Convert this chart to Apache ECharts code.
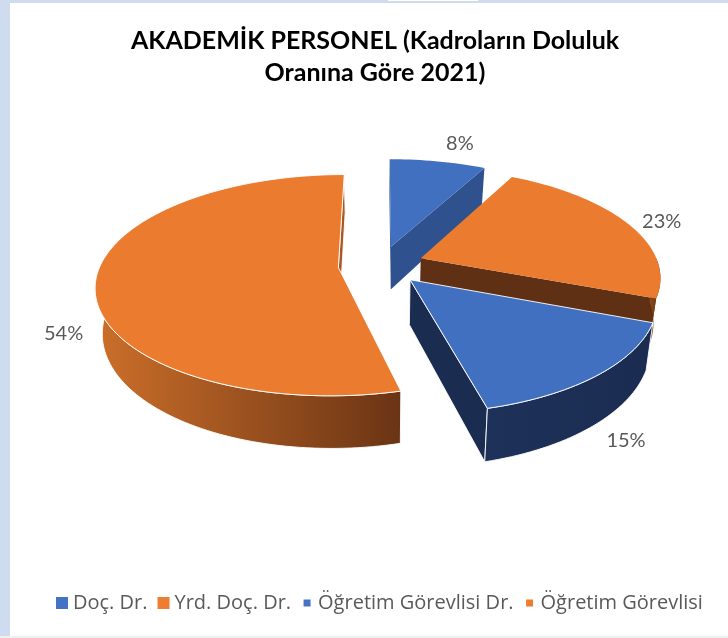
<!DOCTYPE html>
<html><head><meta charset="utf-8">
<style>html,body{margin:0;padding:0;background:#fff}#c{width:728px;height:638px}</style>
<script src="https://cdn.jsdelivr.net/npm/echarts@6/dist/echarts.min.js"></script>
</head><body><div id="c"></div>
<script>
const categories = ['Doç. Dr.', 'Yrd. Doç. Dr.', 'Öğretim Görevlisi Dr.', 'Öğretim Görevlisi'];
const values = [7.7, 23.2, 15.1, 54];
const titleText = 'AKADEMİK PERSONEL (Kadroların Doluluk\nOranına Göre 2021)';

const topColors = ['#4270c0', '#ea7b2f', '#4270c0', '#ea7b2f'];
const legendColors = ['#4472c4', '#ed7d31', '#4472c4', '#ed7d31'];
const cutColors = ['#2f528f', '#5f3014', '#1a2c50', '#a85a22'];
const arcColors = [
  ['#2f528f', '#2f528f'], ['#8a4a1c', '#6a3414'],
  ['#1e3159', '#1a2c50'], ['#cc6f2a', '#6a3414']
];
const outlined = [false, false, true, true];
const labelNudge = [[22, -18], [34, -2], [28, 66], [-32, 52]];

const view = { cx: 381, cy: 265, a: 238, b: 107, k: 0.16, depth: 44, shrink: 0.975, explode: 0.18 };
const total = values.reduce((s, v) => s + v, 0);
const RAD = Math.PI / 180;

function project(X, V, low) {
  const w = 1 - view.k * V;
  return [
    view.cx + view.a * X / w * (low ? view.shrink : 1),
    view.cy + view.b * V / w + (low ? view.depth / w : 0)
  ];
}
function arcPoints(o, from, to, low) {
  const n = Math.max(2, Math.ceil(Math.abs(to - from) / 1.5));
  const pts = [];
  for (let i = 0; i <= n; i++) {
    const t = (from + (to - from) * i / n) * RAD;
    pts.push(project(o[0] + Math.sin(t), o[1] - Math.cos(t), low));
  }
  return pts;
}

function makeSeries(idx) {
  const startPct = values.slice(0, idx).reduce((s, v) => s + v, 0);
  const start = startPct / total * 360;
  const end = (startPct + values[idx]) / total * 360;
  const mid = (start + end) / 2;
  const o = [view.explode * Math.sin(mid * RAD), -view.explode * Math.cos(mid * RAD)];
  const line = outlined[idx] ? { stroke: 'rgba(255,255,255,0.9)', lineWidth: 1 } : { stroke: null, lineWidth: 0 };
  return {
    type: 'custom',
    name: categories[idx],
    coordinateSystem: 'none',
    itemStyle: { color: legendColors[idx] },
    data: [values[idx]],
    silent: true,
    renderItem: function () {
      const kids = [];
      const apexTop = project(o[0], o[1], false);
      const apexLow = project(o[0], o[1], true);
      const addCut = function (deg) {
        const r = arcPoints(o, deg, deg, false)[0];
        const rl = arcPoints(o, deg, deg, true)[0];
        kids.push({ type: 'polygon', shape: { points: [apexTop, r, rl, apexLow] },
          style: Object.assign({ fill: cutColors[idx] }, line) });
      };
      const s = arcPoints(o, start, start, false)[0];
      const e = arcPoints(o, end, end, false)[0];
      if (s[0] - apexTop[0] < -0.5) addCut(start);
      if (e[0] - apexTop[0] > 0.5) addCut(end);
      const a0 = Math.max(start, 90), a1 = Math.min(end, 270);
      if (a1 > a0) {
        const upper = arcPoints(o, a0, a1, false);
        const lower = arcPoints(o, a0, a1, true).reverse();
        kids.push({ type: 'polygon', shape: { points: upper.concat(lower) },
          style: Object.assign({
            fill: { type: 'linear', x: 0, y: 0, x2: 1, y2: 0, colorStops: [
              { offset: 0, color: arcColors[idx][0] }, { offset: 1, color: arcColors[idx][1] }] }
          }, line) });
      }
      kids.push({ type: 'polygon', shape: { points: [apexTop].concat(arcPoints(o, start, end, false)) },
        style: Object.assign({ fill: topColors[idx] }, line) });
      const anchor = arcPoints(o, mid, mid, false)[0];
      kids.push({ type: 'text', z2: 10, style: {
        text: Math.round(values[idx] / total * 100) + '%',
        x: anchor[0] + labelNudge[idx][0], y: anchor[1] + labelNudge[idx][1],
        align: 'center', verticalAlign: 'middle',
        fill: '#595959', font: '20px Lato'
      } });
      return { type: 'group', children: kids };
    }
  };
}

const smallIcon = 'path://M0 0L0 0M12 12L12 12M2.5 2.5H9.5V9.5H2.5Z';
const chart = echarts.init(document.getElementById('c'), null, { renderer: 'canvas' });
chart.setOption({
  animation: false,
  backgroundColor: '#ffffff',
  graphic: [
    { type: 'rect', z: -10, shape: { x: 0, y: 0, width: 728, height: 638 }, style: { fill: '#cfdcef' } },
    { type: 'rect', z: -9, shape: { x: 0, y: 636, width: 728, height: 2 }, style: { fill: '#f0f0f0' } },
    { type: 'rect', z: -8, shape: { x: 10, y: 3, width: 718, height: 633 }, style: { fill: '#ffffff' } },
    { type: 'rect', z: -8, shape: { x: 388, y: 0, width: 90, height: 1 }, style: { fill: '#ffffff' } }
  ],
  title: {
    text: titleText, left: 370, top: 20, textAlign: 'center',
    textStyle: { fontFamily: 'Lato', fontWeight: 'bold', fontSize: 25, lineHeight: 32, color: '#000000' }
  },
  legend: {
    left: 51, top: 588, itemWidth: 12, itemHeight: 12, itemGap: 10,
    textStyle: { fontFamily: 'Open Sans', fontSize: 20, color: '#595959' },
    data: [
      { name: categories[0], icon: 'rect' },
      { name: categories[1], icon: 'rect' },
      { name: categories[2], icon: smallIcon },
      { name: categories[3], icon: smallIcon }
    ]
  },
  series: categories.map((_, i) => makeSeries(i))
});
</script></body></html>
